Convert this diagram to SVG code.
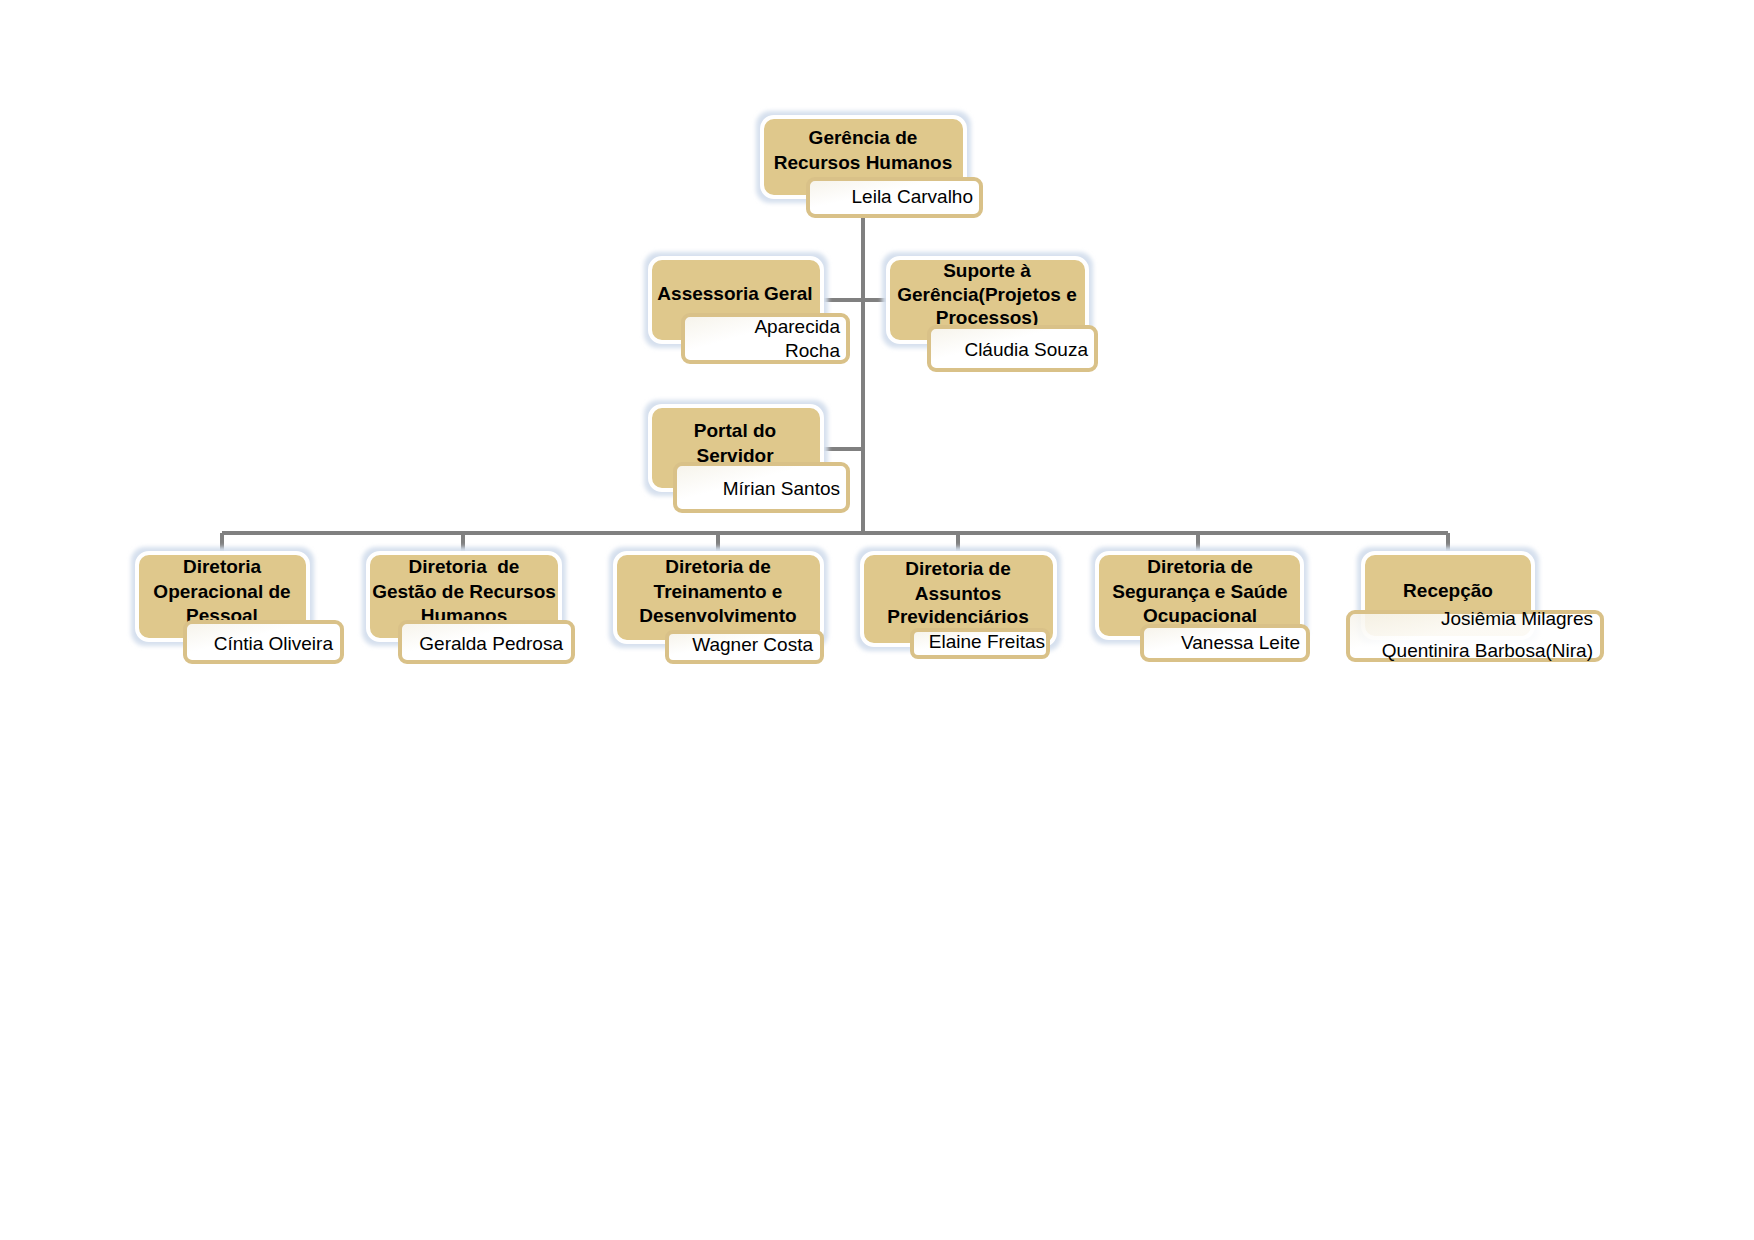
<svg xmlns="http://www.w3.org/2000/svg" width="1754" height="1240" viewBox="0 0 1754 1240">
<style>
.glow{fill:#d6e0ee;filter:url(#blur)}
.unit{fill:#dfc88c;stroke:#ffffff;stroke-width:4}
.name{fill:url(#ng);stroke:#d9c188;stroke-width:4}
.t{font-family:"Liberation Sans",Arial,sans-serif;font-weight:bold;font-size:19px;fill:#000;text-anchor:middle}
.n{font-family:"Liberation Sans",Arial,sans-serif;font-size:19px;fill:#000;text-anchor:end}
.c{stroke:#808080;stroke-width:4;fill:none}
</style>
<defs>
<filter id="blur" x="-10%" y="-20%" width="120%" height="140%"><feGaussianBlur stdDeviation="2"/></filter>
<linearGradient id="ng" x1="0" y1="0" x2="1" y2="1"><stop offset="0" stop-color="#f6f3ea"/><stop offset="0.4" stop-color="#ffffff"/><stop offset="1" stop-color="#ffffff"/></linearGradient>
</defs>
<rect width="1754" height="1240" fill="#ffffff"/>
<g id="connectors">
<path class="c" d="M863 216V533M822 300H888M822 449H863M222 533H1448M222 533V553M463 533V553M718 533V553M958 533V553M1198 533V553M1448 533V553"/>
</g>
<g id="gerencia">
<rect class="glow" x="756" y="111" width="215" height="92" rx="14"/>
<rect class="unit" x="762" y="117" width="203" height="80" rx="12"/>
<text class="t" x="863" y="144">Gerência de</text>
<text class="t" x="863" y="169">Recursos Humanos</text>
<rect class="name" x="808" y="179" width="173" height="37" rx="7"/>
<text class="n" x="973" y="203">Leila Carvalho</text>
</g>
<g id="assessoria">
<rect class="glow" x="644" y="252" width="184" height="96" rx="14"/>
<rect class="unit" x="650" y="258" width="172" height="84" rx="12"/>
<text class="t" x="735" y="300">Assessoria Geral</text>
<rect class="name" x="683" y="315" width="165" height="47" rx="7"/>
<text class="n" x="840" y="333">Aparecida</text>
<text class="n" x="840" y="357">Rocha</text>
</g>
<g id="suporte">
<rect class="glow" x="882" y="252" width="211" height="96" rx="14"/>
<rect class="unit" x="888" y="258" width="199" height="84" rx="12"/>
<text class="t" x="987" y="277">Suporte à</text>
<text class="t" x="987" y="301">Gerência(Projetos e</text>
<text class="t" x="987" y="324">Processos)</text>
<rect class="name" x="929" y="327" width="167" height="43" rx="7"/>
<text class="n" x="1088" y="356">Cláudia Souza</text>
</g>
<g id="portal">
<rect class="glow" x="644" y="400" width="184" height="96" rx="14"/>
<rect class="unit" x="650" y="406" width="172" height="84" rx="12"/>
<text class="t" x="735" y="437">Portal do</text>
<text class="t" x="735" y="462">Servidor</text>
<rect class="name" x="675" y="464" width="173" height="47" rx="7"/>
<text class="n" x="840" y="495">Mírian Santos</text>
</g>
<g id="dir-operacional">
<rect class="glow" x="131" y="547" width="183" height="99" rx="14"/>
<rect class="unit" x="137" y="553" width="171" height="87" rx="12"/>
<text class="t" x="222" y="573">Diretoria</text>
<text class="t" x="222" y="598">Operacional de</text>
<text class="t" x="222" y="622">Pessoal</text>
<rect class="name" x="185" y="622" width="157" height="40" rx="7"/>
<text class="n" x="333" y="650">Cíntia Oliveira</text>
</g>
<g id="dir-gestao">
<rect class="glow" x="362" y="547" width="204" height="99" rx="14"/>
<rect class="unit" x="368" y="553" width="192" height="87" rx="12"/>
<text class="t" x="464" y="573" xml:space="preserve">Diretoria  de</text>
<text class="t" x="464" y="598">Gestão de Recursos</text>
<text class="t" x="464" y="622">Humanos</text>
<rect class="name" x="400" y="622" width="173" height="40" rx="7"/>
<text class="n" x="563" y="650">Geralda Pedrosa</text>
</g>
<g id="dir-treinamento">
<rect class="glow" x="609" y="547" width="219" height="101" rx="14"/>
<rect class="unit" x="615" y="553" width="207" height="89" rx="12"/>
<text class="t" x="718" y="573">Diretoria de</text>
<text class="t" x="718" y="598">Treinamento e</text>
<text class="t" x="718" y="622">Desenvolvimento</text>
<rect class="name" x="667" y="632" width="155" height="30" rx="6"/>
<text class="n" x="813" y="651">Wagner Costa</text>
</g>
<g id="dir-previdenciarios">
<rect class="glow" x="856" y="547" width="205" height="104" rx="14"/>
<rect class="unit" x="862" y="553" width="193" height="92" rx="12"/>
<text class="t" x="958" y="575">Diretoria de</text>
<text class="t" x="958" y="600">Assuntos</text>
<text class="t" x="958" y="623">Previdenciários</text>
<rect class="name" x="912" y="630" width="136" height="27" rx="6"/>
<text class="n" x="1045" y="648">Elaine Freitas</text>
</g>
<g id="dir-seguranca">
<rect class="glow" x="1091" y="547" width="217" height="97" rx="14"/>
<rect class="unit" x="1097" y="553" width="205" height="85" rx="12"/>
<text class="t" x="1200" y="573">Diretoria de</text>
<text class="t" x="1200" y="598">Segurança e Saúde</text>
<text class="t" x="1200" y="622">Ocupacional</text>
<rect class="name" x="1142" y="626" width="166" height="34" rx="7"/>
<text class="n" x="1300" y="649">Vanessa Leite</text>
</g>
<g id="recepcao">
<rect class="glow" x="1357" y="547" width="182" height="97" rx="14"/>
<rect class="unit" x="1363" y="553" width="170" height="85" rx="12"/>
<text class="t" x="1448" y="597">Recepção</text>
<rect class="name" x="1348" y="612" width="254" height="48" rx="7" fill-opacity="0.9"/>
<text class="n" x="1593" y="625">Josiêmia Milagres</text>
<text class="n" x="1593" y="657">Quentinira Barbosa(Nira)</text>
</g>
</svg>
